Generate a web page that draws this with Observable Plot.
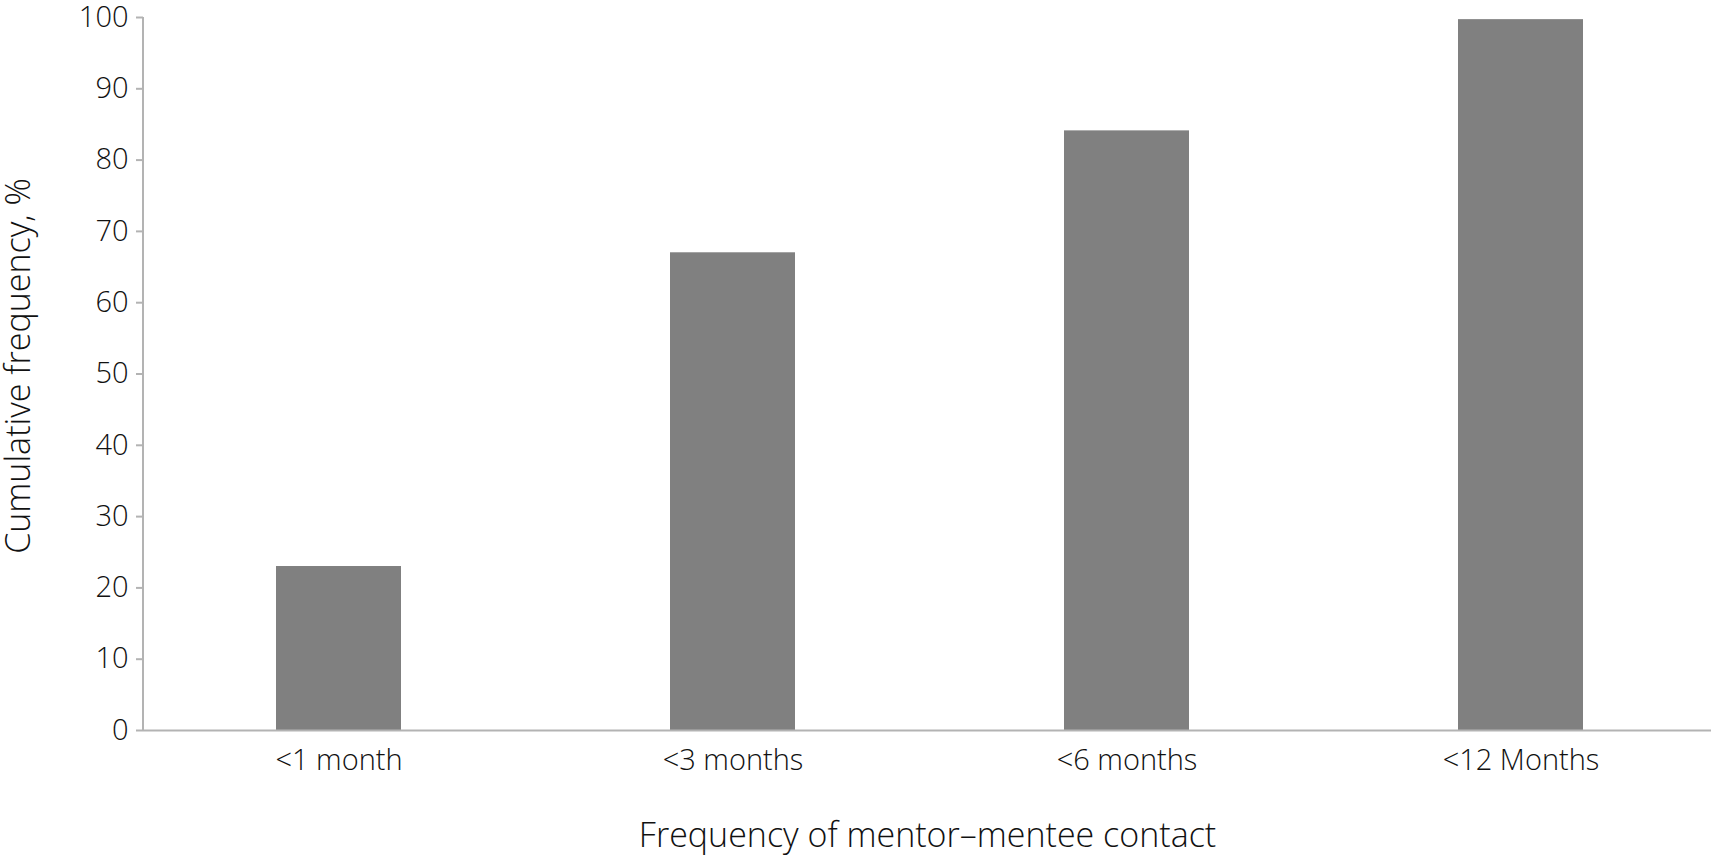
<!DOCTYPE html>
<html>
<head>
<meta charset="utf-8">
<script src="https://cdn.jsdelivr.net/npm/d3@7"></script>
<script src="https://cdn.jsdelivr.net/npm/@observablehq/plot@0.6"></script>
<style>
  html, body { margin: 0; padding: 0; background: #fff; }
  svg { display: block; }
</style>
</head>
<body>
<div id="chart"></div>
<script>
const categories = ["<1 month", "<3 months", "<6 months", "<12 Months"];
const values = [23.0, 67.0, 84.1, 99.7];
const yTicks = [0, 10, 20, 30, 40, 50, 60, 70, 80, 90, 100];
const xTitle = "Frequency of mentor–mentee contact";
const yTitle = "Cumulative frequency, %";

const data = categories.map((c, i) => ({category: c, value: values[i]}));

const W = 1711, H = 857;
const mL = 143, mT = 17, mB = 127, mR = 0;
const axisColor = "#b3b3b3";
const font = "'Open Sans', sans-serif";
const textColor = "#111";

const chart = Plot.plot({
  width: W,
  height: H,
  marginLeft: mL,
  marginTop: mT,
  marginBottom: mB,
  marginRight: mR,
  style: {fontFamily: font, fontSize: "28px", fontWeight: 300, color: textColor, background: "#fff"},
  x: {domain: categories, range: [mL, 1715], paddingInner: 0.683, paddingOuter: 0.335, align: 0.5},
  y: {domain: [0, 100], range: [H - mB, mT]},
  marks: [
    Plot.barY(data, {x: "category", y: "value", fill: "#808080"}),
    Plot.ruleY([0], {stroke: axisColor, strokeWidth: 2}),
    Plot.axisY({ticks: yTicks, tickSize: 7, tickPadding: 8, stroke: axisColor, strokeWidth: 2, label: null, fontSize: 29, fill: textColor}),
    Plot.axisX({tickSize: 0, tickPadding: 19, label: null, fontSize: 29, fill: textColor}),
    Plot.text([yTitle], {frameAnchor: "left", textAnchor: "middle", dx: -124, dy: -8, rotate: -90, fontSize: 34, fill: textColor, text: d => d}),
    Plot.text([xTitle], {frameAnchor: "bottom", textAnchor: "middle", dy: 116, fontSize: 34, fill: textColor, text: d => d})
  ]
});

// y-axis domain line, positioned through the plot's own y scale
const ys = chart.scale("y");
d3.select(chart).append("line")
  .attr("x1", mL).attr("x2", mL)
  .attr("y1", ys.apply(0) + 1).attr("y2", ys.apply(100))
  .attr("stroke", axisColor).attr("stroke-width", 2);

document.getElementById("chart").appendChild(chart);
</script>
</body>
</html>
